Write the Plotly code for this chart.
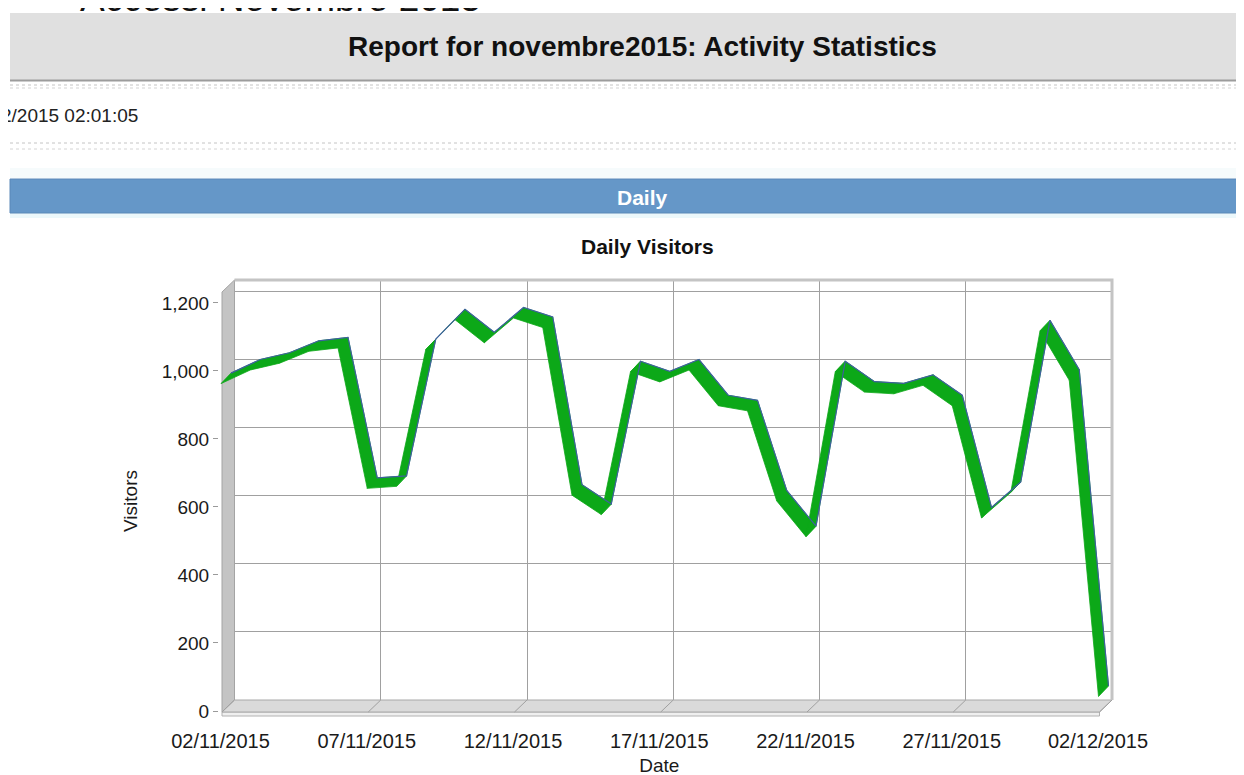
import plotly.graph_objects as go

# values
dates = ["02/11/2015", "03/11/2015", "04/11/2015", "05/11/2015", "06/11/2015",
         "07/11/2015", "08/11/2015", "09/11/2015", "10/11/2015", "11/11/2015",
         "12/11/2015", "13/11/2015", "14/11/2015", "15/11/2015", "16/11/2015",
         "17/11/2015", "18/11/2015", "19/11/2015", "20/11/2015", "21/11/2015",
         "22/11/2015", "23/11/2015", "24/11/2015", "25/11/2015", "26/11/2015",
         "27/11/2015", "28/11/2015", "29/11/2015", "30/11/2015", "01/12/2015",
         "02/12/2015"]
visitors = [970, 1010, 1030, 1065, 1075, 662, 668, 1070, 1158, 1090,
            1163, 1135, 642, 585, 1005, 975, 1010, 905, 890, 625,
            520, 1005, 945, 940, 965, 905, 575, 650, 1125, 980,
            50]
y_ticks = [0, 200, 400, 600, 800, 1000, 1200]
tick_every = 5

W, H = 1244, 775
PAD = 8                        # page body margin around the plot div
FONT = "Arial, Liberation Sans, sans-serif"

# pixel frame (screen px) of the back wall of the pseudo 3d chart
BX0, BX1 = 234.5, 1112.0
BY0, BY1 = 280.0, 700.0
YMAX = 1235
DEPTH = (-12.5, 12.0)          # back wall -> front edge, in px
RIB_BACK = (-3.5, 3.0)         # ribbon edges, in px
RIB_FRONT = (-13.5, 13.5)

xs = list(range(len(dates)))
ppd = (BX1 - BX0) / (len(dates) - 1)
ppu = (BY1 - BY0) / YMAX


def px2x(px):
    return (px - BX0) / ppd


def py2y(py):
    return (BY1 - py) / ppu


def fx(px):
    return (px - PAD) / W


def fy(py):
    return 1 - (py - PAD) / H


def off(p):
    return p[0] / ppd, -p[1] / ppu


fig = go.Figure()

# invisible traces so every axis pair gets drawn
fig.add_trace(go.Scatter(x=xs, y=visitors, mode="lines", opacity=0,
                         line=dict(width=0), hoverinfo="skip", showlegend=False))
fig.add_trace(go.Scatter(x=xs, y=visitors, mode="lines", opacity=0, xaxis="x3", yaxis="y3",
                         line=dict(width=0), hoverinfo="skip", showlegend=False))

# walls and floor
dx, dy = off(DEPTH)
last = xs[-1]
wall_x = [0, 0, dx, dx, 0]
wall_y = [YMAX, 0, dy, YMAX + dy, YMAX]
fig.add_trace(go.Scatter(x=wall_x, y=wall_y, fill="toself", fillcolor="#c4c4c4", mode="lines",
                         line=dict(color="#a4a4a4", width=1), xaxis="x2", yaxis="y2",
                         hoverinfo="skip", showlegend=False))
face = 4 / ppu
fig.add_trace(go.Scatter(x=[dx, last + dx, last + dx, dx, dx],
                         y=[dy, dy, dy - face, dy - face, dy],
                         fill="toself", fillcolor="#efefef", mode="lines",
                         line=dict(color="#b2b2b2", width=1), xaxis="x2", yaxis="y2",
                         hoverinfo="skip", showlegend=False))
fig.add_trace(go.Scatter(x=[0, last, last + dx, dx, 0], y=[0, 0, dy, dy, 0],
                         fill="toself", fillcolor="#dadada", mode="lines",
                         line=dict(color="#a8a8a8", width=1), xaxis="x2", yaxis="y2",
                         hoverinfo="skip", showlegend=False))
sl_x, sl_y = [], []
for t in xs[::tick_every]:
    sl_x += [t, t + dx, None]
    sl_y += [0, dy, None]
fig.add_trace(go.Scatter(x=sl_x, y=sl_y, mode="lines", line=dict(color="#a0a0a0", width=1),
                         xaxis="x2", yaxis="y2", hoverinfo="skip", showlegend=False))
fig.add_trace(go.Scatter(x=[0, last, last], y=[YMAX, YMAX, 0], mode="lines",
                         line=dict(color="#c4c4c4", width=3), xaxis="x2", yaxis="y2",
                         hoverinfo="skip", showlegend=False))

# the ribbon: one parallelogram per day-to-day step, all wound the same way
bx, by = off(RIB_BACK)
fx_, fy_ = off(RIB_FRONT)
rx, ry = [], []
for i in range(len(xs) - 1):
    qx = [xs[i] + bx, xs[i + 1] + bx, xs[i + 1] + fx_, xs[i] + fx_]
    qy = [visitors[i] + by, visitors[i + 1] + by, visitors[i + 1] + fy_, visitors[i] + fy_]
    cross = ((qx[1] - qx[0]) * ppd) * ((qy[3] - qy[0]) * ppu) - \
            ((qy[1] - qy[0]) * ppu) * ((qx[3] - qx[0]) * ppd)
    if cross < 0:
        qx, qy = qx[::-1], qy[::-1]
    rx += qx + [qx[0], None]
    ry += qy + [qy[0], None]
fig.add_trace(go.Scatter(x=rx, y=ry, fill="toself", fillcolor="#0ca818", mode="lines",
                         line=dict(color="#0ca818", width=0.8), xaxis="x2", yaxis="y2",
                         hoverinfo="skip", showlegend=False))
fig.add_trace(go.Scatter(x=[x + bx for x in xs], y=[v + by for v in visitors], mode="lines",
                         line=dict(color="#3f5fa0", width=1.2), xaxis="x2", yaxis="y2",
                         name="Visitors", showlegend=False))

grid = "#a0a0a0"
fig.update_layout(
    width=W, height=H,
    margin=dict(l=0, r=0, t=0, b=0, pad=0),
    paper_bgcolor="white", plot_bgcolor="rgba(0,0,0,0)",
    font=dict(family=FONT, color="#1a1a1a"),
    showlegend=False,
    xaxis=dict(domain=[fx(BX0), fx(BX1)], range=[0, last], tickvals=xs[::tick_every],
               showticklabels=False, ticks="", showgrid=True, gridcolor=grid,
               zeroline=False, showline=False, automargin=False),
    yaxis=dict(domain=[fy(BY1), fy(BY0)], range=[0, YMAX], tickvals=y_ticks,
               showticklabels=False, ticks="", showgrid=True, gridcolor=grid,
               zeroline=False, showline=False, automargin=False),
    xaxis2=dict(domain=[fx(195), fx(1135)], range=[px2x(195), px2x(1135)], anchor="y2",
                visible=False, automargin=False),
    yaxis2=dict(domain=[fy(730), fy(265)], range=[py2y(730), py2y(265)], anchor="x2",
                visible=False, automargin=False),
    xaxis3=dict(domain=[fx(BX0 - 14), fx(BX1 - 14)], range=[0, last], anchor="free",
                position=fy(727), tickvals=xs[::tick_every], ticktext=dates[::tick_every],
                showgrid=False, zeroline=False, showline=False, ticks="", automargin=False,
                tickfont=dict(size=20, color="#1a1a1a"),
                title=dict(text="Date", font=dict(size=19), standoff=7)),
    yaxis3=dict(domain=[fy(BY1 + 11), fy(BY0 + 11)], range=[0, YMAX], anchor="free",
                position=fx(218), tickvals=y_ticks, tickformat=",", showgrid=False,
                zeroline=False, showline=False, ticks="outside", ticklen=5, automargin=False,
                tickcolor="#9a9a9a", tickfont=dict(size=19, color="#1a1a1a"),
                title=dict(text="Visitors", font=dict(size=19), standoff=18)),
)

# page furniture around the chart
shapes = [
    dict(type="rect", x0=fx(10), x1=1, y0=fy(80), y1=fy(13), fillcolor="#e0e0e0", line_width=0),
    dict(type="line", x0=fx(10), x1=1, y0=fy(80.5), y1=fy(80.5), line=dict(color="#9c9c9c", width=2)),
    dict(type="line", x0=fx(10), x1=1, y0=fy(85), y1=fy(85), line=dict(color="#c4c4c4", width=1, dash="dot")),
    dict(type="line", x0=fx(10), x1=1, y0=fy(88), y1=fy(88), line=dict(color="#d4d4d4", width=1, dash="dot")),
    dict(type="line", x0=fx(10), x1=1, y0=fy(143), y1=fy(143), line=dict(color="#c4c4c4", width=1, dash="dot")),
    dict(type="line", x0=fx(10), x1=1, y0=fy(149), y1=fy(149), line=dict(color="#d4d4d4", width=1, dash="dot")),
    dict(type="rect", x0=fx(10), x1=1, y0=fy(178), y1=fy(168), fillcolor="#f6fbfc", line_width=0),
    dict(type="rect", x0=fx(10), x1=1, y0=fy(218), y1=fy(213), fillcolor="#ecf8fb", line_width=0),
    dict(type="rect", x0=fx(10), x1=1, y0=fy(213), y1=fy(179), fillcolor="#6597c8",
         line=dict(color="#5a88b8", width=1)),
]
for s in shapes:
    s.update(xref="paper", yref="paper", layer="below")
fig.update_layout(shapes=shapes)

annotations = [
    dict(text="Accessi Novembre 2015", x=fx(78), y=fy(-1), xanchor="left", yanchor="middle",
         font=dict(size=37, color="#111111")),
    dict(text="<b>Report for novembre2015: Activity Statistics</b>", x=fx(643), y=fy(47),
         xanchor="center", yanchor="middle", font=dict(size=28, color="#111111")),
    dict(text="02/12/2015 02:01:05", x=fx(140), y=fy(115), xanchor="right", yanchor="middle",
         font=dict(size=19, color="#222222")),
    dict(text="<b>Daily</b>", x=fx(642), y=fy(197), xanchor="center", yanchor="middle",
         font=dict(size=21, color="white")),
    dict(text="<b>Daily Visitors</b>", x=fx(647), y=fy(247), xanchor="center", yanchor="middle",
         font=dict(size=21, color="#111111")),
]
for a in annotations:
    a.update(xref="paper", yref="paper", showarrow=False)
fig.update_layout(annotations=annotations)

fig.write_html("out.html")
